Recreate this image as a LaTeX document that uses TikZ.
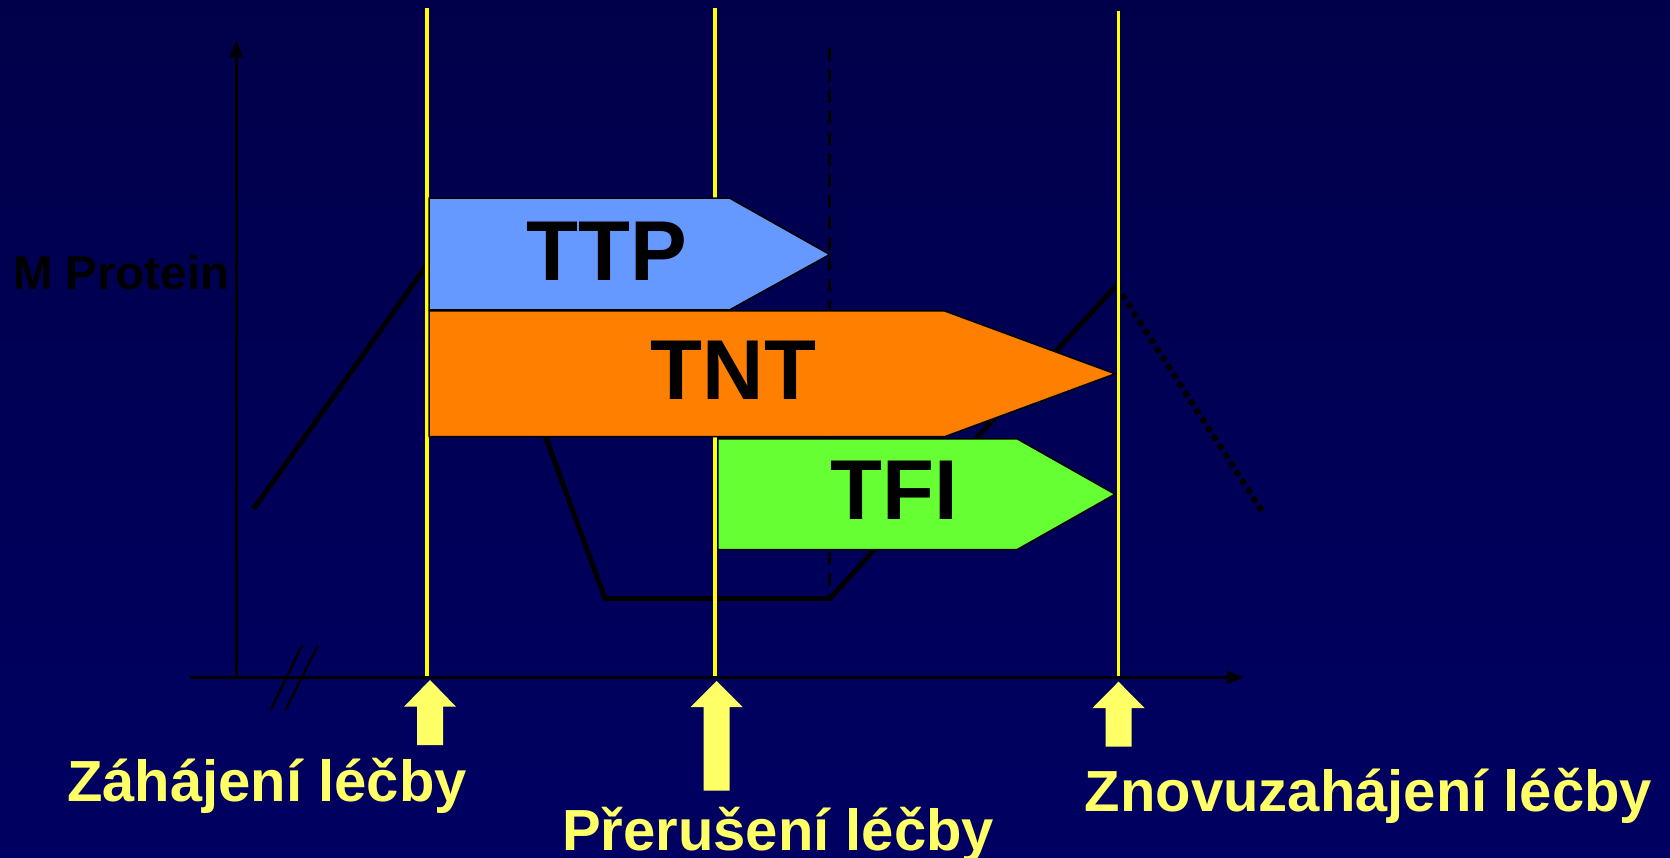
\documentclass[tikz,border=0pt]{standalone}
\usepackage{fontspec}
\setmainfont{Liberation Sans}
\usetikzlibrary{arrows.meta}
\definecolor{bgtop}{RGB}{0,0,74}
\definecolor{bgbot}{RGB}{0,0,98}
\definecolor{vline}{RGB}{255,255,0}
\definecolor{lblyel}{RGB}{255,255,102}
\definecolor{ttpc}{RGB}{102,153,255}
\definecolor{tntc}{RGB}{255,128,0}
\definecolor{tfic}{RGB}{102,255,51}
\newcommand\blockup[4]{%
  \fill[lblyel] ({#1-13},#4) -- ({#1-13},#3) -- ({#1-26},#3) -- (#1,#2) -- ({#1+26},#3) -- ({#1+13},#3) -- ({#1+13},#4) -- cycle;}
\begin{document}
\begin{tikzpicture}[x=1pt,y=-1pt,
  curveline/.style={line width=5pt,black},
  dotline/.style={line width=6pt,black,dash pattern=on 6pt off 4.5pt},
  dashline/.style={line width=3.2pt,black,dash pattern=on 13pt off 8pt},
  vl/.style={line width=3.6pt,vline},
  bigarrow/.style={draw=black,line width=1.5pt},
  biglabel/.style={inner sep=0pt,font=\fontsize{85}{86}\selectfont\bfseries,text=black},
  lbl/.style={inner sep=0pt,anchor=base,font=\fontsize{58}{60}\selectfont\bfseries,text=lblyel},
  axisline/.style={line width=3pt,black},
  brk/.style={line width=2.4pt,black}]
\useasboundingbox (0,0) rectangle (1670,858);
\shade[top color=bgtop,bottom color=bgbot] (0,0) rectangle (1670,858);
% M protein curve
\draw[curveline] (253.5,509.1) -- (426,266.3);
\draw[curveline,line join=miter] (532,400) -- (605,598.6) -- (829.7,598.6) -- (1116.2,285.4);
\draw[dotline] (1116.2,285.4) -- (1262,511.2);
\draw[dashline] (829.7,48) -- (829.7,598.6);
% yellow time lines
\draw[vl] (427,8.5) -- (427,677.4);
\draw[vl] (714.7,8.5) -- (714.7,677.4);
\draw[vl] (1118.3,10.7) -- (1118.3,677.4);
% interval arrows
\filldraw[bigarrow,fill=ttpc] (429.2,198.1) -- (729.6,198.1) -- (829.7,254.5) -- (729.6,309.9) -- (429.2,309.9) -- cycle;
\filldraw[bigarrow,fill=tntc] (429.2,311) -- (944.7,311) -- (1115.1,373.8) -- (944.7,436.7) -- (429.2,436.7) -- cycle;
\filldraw[bigarrow,fill=tfic] (717.8,438.8) -- (1017.1,438.8) -- (1115.1,494.2) -- (1017.1,549.6) -- (717.8,549.6) -- cycle;
\node[biglabel] (ttp) at (607,251) {TTP};
\node[biglabel] (tnt) at (733.3,370.6) {TNT};
\node[biglabel] (tfi) at (894,490.5) {TFI};
% axes
\draw[axisline,-{Triangle[length=17pt,width=13pt]}] (189.6,677.4) -- (1244,677.4);
\draw[axisline,-{Triangle[length=17pt,width=13pt]}] (236.4,677.4) -- (236.4,40.5);
\draw[brk] (301.4,646.5) -- (270.5,710.4);
\draw[brk] (317.4,646.5) -- (285.4,710.4);
\node[inner sep=0pt,anchor=base west,font=\fontsize{47.5}{49}\selectfont\bfseries,text=black] (mprot) at (12.8,289.7) {M Protein};
% bottom block arrows
\blockup{430}{680}{706.7}{745}
\blockup{716.7}{681}{707}{790.7}
\blockup{1118.5}{681.7}{708}{746.7}
\node[lbl] (zah) at (267,801) {Záhájení léčby};
\node[lbl] (pre) at (778,850) {Přerušení léčby};
\node[lbl] (znov) at (1368.5,811.5) {Znovuzahájení léčby};
\end{tikzpicture}
\end{document}
